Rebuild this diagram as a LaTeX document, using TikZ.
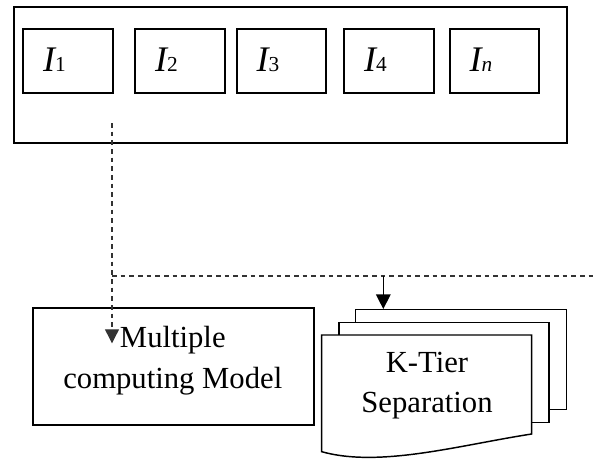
\documentclass[tikz,border=0pt]{standalone}
\usepackage{fontspec}
\setmainfont{Liberation Serif}
\usetikzlibrary{arrows.meta}
\newcommand\Isub[1]{I{\fontsize{16}{16}\selectfont\upshape #1}}
\begin{document}
\begin{tikzpicture}[x=0.75pt,y=-0.75pt,
  frame/.style={draw, line width=1.4pt, inner sep=0pt, anchor=north west},
  ibox/.style={draw, line width=1.4pt, anchor=north west, minimum width=67.1pt,
    minimum height=48.2pt, inner xsep=15pt, inner ysep=0pt, text width=37.1pt,
    align=left, text height=18pt, text depth=3pt,
    font=\fontsize{27}{27}\selectfont\itshape},
  pagestyle/.style={draw, fill=white, line width=1.1pt, inner sep=0pt, anchor=north west},
  txt/.style={inner sep=0pt, align=center, anchor=north},
  dashline/.style={draw=black!80, line width=0.85pt, dash pattern=on 3.5pt off 3pt},
  dtip/.style={-{Triangle[width=10.5pt,length=10.5pt]}},
  stip/.style={-{Triangle[width=11pt,length=11pt]}, line width=1pt}]
\useasboundingbox (0,0) rectangle (593,458);
\fill[white] (0,0) rectangle (593,458);

% top frame with inputs
\node[frame, minimum width=414.75pt, minimum height=101.8pt] (outer) at (12.7,6) {};
\node[ibox] (i1) at (22.3,28) {\Isub{1}};
\node[ibox] (i2) at (134.3,28) {\Isub{2}};
\node[ibox] (i3) at (235.7,28) {\Isub{3}};
\node[ibox] (i4) at (343.3,28) {\Isub{4}};
\node[ibox] (i5) at (448.7,28) {\Isub{\itshape n}};

% multiple computing model
\node[frame, line width=1.2pt, minimum width=210.75pt, minimum height=87.75pt] (model) at (32.3,307.3) {};

% k-tier stacked documents
\node[pagestyle, minimum width=158.25pt, minimum height=75pt] (p3) at (355,309) {};
\node[pagestyle, minimum width=157.5pt, minimum height=75.2pt] (p2) at (338.3,321.7) {};
\draw[pagestyle] (321.7,335) coordinate (p1) -- (531.7,335) -- (531.7,434)
  .. controls (460,445) and (380,468) .. (321.7,451.7) -- cycle;

% texts
\node[txt, font=\fontsize{23}{31}\selectfont] (modeltxt) at (172.8,325.4)
  {\rule{0pt}{16pt}Multiple\\computing Model};
\node[txt, font=\fontsize{23}{30}\selectfont] (ktier) at (427,350.4)
  {\rule{0pt}{16pt}K-Tier\\Separation};

% connectors
\coordinate (dstart) at (112,123);
\coordinate (j1) at (112,276);
\coordinate (dend) at (593,276);
\coordinate (mtip) at (112,343.3);
\coordinate (j2) at (383.3,276);
\draw[dashline, dtip] (dstart) -- (mtip);
\draw[dashline] (j1) -- (dend);
\draw[stip] (j2) -- (j2 |- p3.north);
\end{tikzpicture}
\end{document}
